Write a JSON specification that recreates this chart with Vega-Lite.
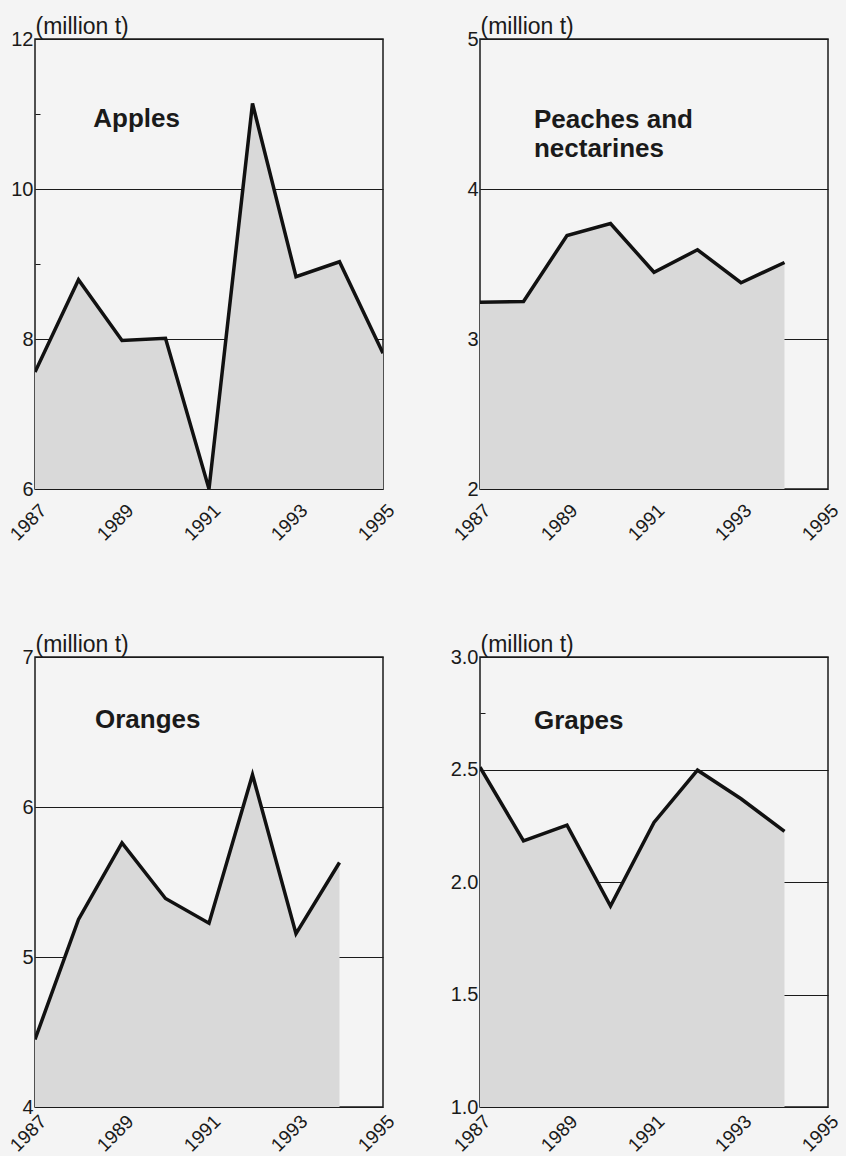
{
  "$schema": "https://vega.github.io/schema/vega-lite/v6.json",
  "background": "#f4f4f4",
  "padding": {"left": 5, "top": 14, "right": 3, "bottom": 0},
  "config": {
    "font": "Liberation Sans",
    "view": {"stroke": "#1a1a1a", "strokeWidth": 1.5},
    "axis": {"labelFont": "Liberation Sans", "labelFontSize": 20, "labelColor": "#1a1a1a", "domain": false, "labelFlush": false, "labelOverlap": false},
    "axisX": {"labelFontSize": 19}
  },
  "data": {"values": [
    {"fruit": "Apples", "year": 1987, "value": 7.56},
    {"fruit": "Apples", "year": 1988, "value": 8.79},
    {"fruit": "Apples", "year": 1989, "value": 7.98},
    {"fruit": "Apples", "year": 1990, "value": 8.01},
    {"fruit": "Apples", "year": 1991, "value": 6.0},
    {"fruit": "Apples", "year": 1992, "value": 11.14},
    {"fruit": "Apples", "year": 1993, "value": 8.83},
    {"fruit": "Apples", "year": 1994, "value": 9.03},
    {"fruit": "Apples", "year": 1995, "value": 7.81},
    {"fruit": "Peaches", "year": 1987, "value": 3.245},
    {"fruit": "Peaches", "year": 1988, "value": 3.25},
    {"fruit": "Peaches", "year": 1989, "value": 3.69},
    {"fruit": "Peaches", "year": 1990, "value": 3.77},
    {"fruit": "Peaches", "year": 1991, "value": 3.445},
    {"fruit": "Peaches", "year": 1992, "value": 3.595},
    {"fruit": "Peaches", "year": 1993, "value": 3.375},
    {"fruit": "Peaches", "year": 1994, "value": 3.51},
    {"fruit": "Oranges", "year": 1987, "value": 4.45},
    {"fruit": "Oranges", "year": 1988, "value": 5.25},
    {"fruit": "Oranges", "year": 1989, "value": 5.76},
    {"fruit": "Oranges", "year": 1990, "value": 5.39},
    {"fruit": "Oranges", "year": 1991, "value": 5.225},
    {"fruit": "Oranges", "year": 1992, "value": 6.215},
    {"fruit": "Oranges", "year": 1993, "value": 5.155},
    {"fruit": "Oranges", "year": 1994, "value": 5.63},
    {"fruit": "Grapes", "year": 1987, "value": 2.51},
    {"fruit": "Grapes", "year": 1988, "value": 2.183},
    {"fruit": "Grapes", "year": 1989, "value": 2.253},
    {"fruit": "Grapes", "year": 1990, "value": 1.893},
    {"fruit": "Grapes", "year": 1991, "value": 2.265},
    {"fruit": "Grapes", "year": 1992, "value": 2.497},
    {"fruit": "Grapes", "year": 1993, "value": 2.37},
    {"fruit": "Grapes", "year": 1994, "value": 2.225}
  ]},
  "columns": 2,
  "bounds": "flush",
  "spacing": {"row": 168, "column": 97},
  "concat": [
    {
      "width": 348, "height": 450,
      "layer": [
        {
          "transform": [{"filter": "datum.fruit == 'Apples'"}],
          "mark": {"type": "area", "color": "#d9d9d9", "clip": true},
          "encoding": {
            "x": {"field": "year", "type": "quantitative", "scale": {"domain": [1987, 1995], "nice": false, "zero": false},
              "axis": {"values": [1987, 1989, 1991, 1993, 1995], "format": "d", "labelAngle": -45, "labelAlign": "right", "labelBaseline": "middle", "labelPadding": 18, "labelOffset": 8, "ticks": false, "grid": false, "title": null}},
            "y": {"field": "value", "type": "quantitative", "scale": {"domain": [6, 12], "nice": false, "zero": false},
              "axis": {"values": [6, 7, 8, 9, 10, 11, 12], "format": "d", "labelExpr": "datum.value % 2 == 0 ? datum.label : ''",
                "gridColor": "#1a1a1a", "gridWidth": 1, "gridOpacity": {"condition": {"test": "datum.value % 2 == 0", "value": 1}, "value": 0},
                "tickSize": -5, "tickColor": "#1a1a1a", "labelPadding": 7,
                "title": "(million t)", "titleAngle": 0, "titleX": 0, "titleY": -6, "titleAlign": "left", "titleBaseline": "alphabetic",
                "titleFontSize": 23, "titleFontWeight": "normal", "titleColor": "#1a1a1a", "titleFont": "Liberation Sans"}}
          }
        },
        {
          "transform": [{"filter": "datum.fruit == 'Apples'"}],
          "mark": {"type": "line", "color": "#111111", "strokeWidth": 3.5, "clip": true},
          "encoding": {"x": {"field": "year", "type": "quantitative"}, "y": {"field": "value", "type": "quantitative"}}
        },
        {
          "data": {"values": [{"label": "Apples"}]},
          "mark": {"type": "text", "align": "left", "baseline": "alphabetic", "fontSize": 26, "fontWeight": "bold", "color": "#1a1a1a"},
          "encoding": {"x": {"datum": 1988.34}, "y": {"datum": 10.83}, "text": {"field": "label"}}
        }
      ]
    },
    {
      "width": 348, "height": 450,
      "layer": [
        {
          "transform": [{"filter": "datum.fruit == 'Peaches'"}],
          "mark": {"type": "area", "color": "#d9d9d9", "clip": true},
          "encoding": {
            "x": {"field": "year", "type": "quantitative", "scale": {"domain": [1987, 1995], "nice": false, "zero": false},
              "axis": {"values": [1987, 1989, 1991, 1993, 1995], "format": "d", "labelAngle": -45, "labelAlign": "right", "labelBaseline": "middle", "labelPadding": 18, "labelOffset": 7, "ticks": false, "grid": false, "title": null}},
            "y": {"field": "value", "type": "quantitative", "scale": {"domain": [2, 5], "nice": false, "zero": false},
              "axis": {"values": [2, 2.5, 3, 3.5, 4, 4.5, 5], "format": "d", "labelExpr": "datum.value % 1 == 0 ? datum.label : ''",
                "gridColor": "#1a1a1a", "gridWidth": 1, "gridOpacity": {"condition": {"test": "datum.value % 1 == 0", "value": 1}, "value": 0},
                "tickSize": -5, "tickColor": "#1a1a1a", "labelPadding": 7,
                "title": "(million t)", "titleAngle": 0, "titleX": 0, "titleY": -6, "titleAlign": "left", "titleBaseline": "alphabetic",
                "titleFontSize": 23, "titleFontWeight": "normal", "titleColor": "#1a1a1a", "titleFont": "Liberation Sans"}}
          }
        },
        {
          "transform": [{"filter": "datum.fruit == 'Peaches'"}],
          "mark": {"type": "line", "color": "#111111", "strokeWidth": 3.5, "clip": true},
          "encoding": {"x": {"field": "year", "type": "quantitative"}, "y": {"field": "value", "type": "quantitative"}}
        },
        {
          "data": {"values": [{"label": ["Peaches and", "nectarines"]}]},
          "mark": {"type": "text", "align": "left", "baseline": "alphabetic", "fontSize": 26, "fontWeight": "bold", "color": "#1a1a1a", "lineHeight": 29},
          "encoding": {"x": {"datum": 1988.24}, "y": {"datum": 4.41}, "text": {"field": "label"}}
        }
      ]
    },
    {
      "width": 348, "height": 450,
      "layer": [
        {
          "transform": [{"filter": "datum.fruit == 'Oranges'"}],
          "mark": {"type": "area", "color": "#d9d9d9", "clip": true},
          "encoding": {
            "x": {"field": "year", "type": "quantitative", "scale": {"domain": [1987, 1995], "nice": false, "zero": false},
              "axis": {"values": [1987, 1989, 1991, 1993, 1995], "format": "d", "labelAngle": -45, "labelAlign": "right", "labelBaseline": "middle", "labelPadding": 11, "labelOffset": 8, "ticks": false, "grid": false, "title": null}},
            "y": {"field": "value", "type": "quantitative", "scale": {"domain": [4, 7], "nice": false, "zero": false},
              "axis": {"values": [4, 4.5, 5, 5.5, 6, 6.5, 7], "format": "d", "labelExpr": "datum.value % 1 == 0 ? datum.label : ''",
                "gridColor": "#1a1a1a", "gridWidth": 1, "gridOpacity": {"condition": {"test": "datum.value % 1 == 0", "value": 1}, "value": 0},
                "tickSize": -5, "tickColor": "#1a1a1a", "labelPadding": 7,
                "title": "(million t)", "titleAngle": 0, "titleX": 0, "titleY": -6, "titleAlign": "left", "titleBaseline": "alphabetic",
                "titleFontSize": 23, "titleFontWeight": "normal", "titleColor": "#1a1a1a", "titleFont": "Liberation Sans"}}
          }
        },
        {
          "transform": [{"filter": "datum.fruit == 'Oranges'"}],
          "mark": {"type": "line", "color": "#111111", "strokeWidth": 3.5, "clip": true},
          "encoding": {"x": {"field": "year", "type": "quantitative"}, "y": {"field": "value", "type": "quantitative"}}
        },
        {
          "data": {"values": [{"label": "Oranges"}]},
          "mark": {"type": "text", "align": "left", "baseline": "alphabetic", "fontSize": 26, "fontWeight": "bold", "color": "#1a1a1a"},
          "encoding": {"x": {"datum": 1988.38}, "y": {"datum": 6.53}, "text": {"field": "label"}}
        }
      ]
    },
    {
      "width": 348, "height": 450,
      "layer": [
        {
          "transform": [{"filter": "datum.fruit == 'Grapes'"}],
          "mark": {"type": "area", "color": "#d9d9d9", "clip": true},
          "encoding": {
            "x": {"field": "year", "type": "quantitative", "scale": {"domain": [1987, 1995], "nice": false, "zero": false},
              "axis": {"values": [1987, 1989, 1991, 1993, 1995], "format": "d", "labelAngle": -45, "labelAlign": "right", "labelBaseline": "middle", "labelPadding": 11, "labelOffset": 7, "ticks": false, "grid": false, "title": null}},
            "y": {"field": "value", "type": "quantitative", "scale": {"domain": [1, 3], "nice": false, "zero": false},
              "axis": {"values": [1, 1.25, 1.5, 1.75, 2, 2.25, 2.5, 2.75, 3], "format": ".1f", "labelExpr": "datum.value % 0.5 == 0 ? datum.label : ''",
                "gridColor": "#1a1a1a", "gridWidth": 1, "gridOpacity": {"condition": {"test": "datum.value % 0.5 == 0", "value": 1}, "value": 0},
                "tickSize": -5, "tickColor": "#1a1a1a", "labelPadding": 7,
                "title": "(million t)", "titleAngle": 0, "titleX": 0, "titleY": -6, "titleAlign": "left", "titleBaseline": "alphabetic",
                "titleFontSize": 23, "titleFontWeight": "normal", "titleColor": "#1a1a1a", "titleFont": "Liberation Sans"}}
          }
        },
        {
          "transform": [{"filter": "datum.fruit == 'Grapes'"}],
          "mark": {"type": "line", "color": "#111111", "strokeWidth": 3.5, "clip": true},
          "encoding": {"x": {"field": "year", "type": "quantitative"}, "y": {"field": "value", "type": "quantitative"}}
        },
        {
          "data": {"values": [{"label": "Grapes"}]},
          "mark": {"type": "text", "align": "left", "baseline": "alphabetic", "fontSize": 26, "fontWeight": "bold", "color": "#1a1a1a"},
          "encoding": {"x": {"datum": 1988.24}, "y": {"datum": 2.68}, "text": {"field": "label"}}
        }
      ]
    }
  ]
}
